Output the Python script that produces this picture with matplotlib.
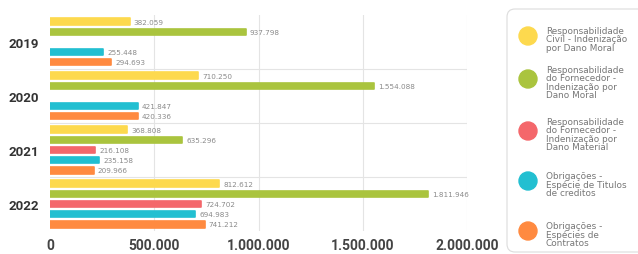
import matplotlib
matplotlib.use("Agg")
import matplotlib.pyplot as plt
from matplotlib.patches import FancyBboxPatch, Circle

years = ["2019", "2020", "2021", "2022"]
series_names = [
    "Responsabilidade\nCivil - Indenização\npor Dano Moral",
    "Responsabilidade\ndo Fornecedor -\nIndenização por\nDano Moral",
    "Responsabilidade\ndo Fornecedor -\nIndenização por\nDano Material",
    "Obrigações -\nEspécie de Titulos\nde creditos",
    "Obrigações -\nEspécies de\nContratos",
]
civil_dano_moral = [382059, 710250, 368808, 812612]
fornecedor_dano_moral = [937798, 1554088, 635296, 1811946]
fornecedor_dano_material = [None, None, 216108, 724702]
titulos_credito = [255448, 421847, 235158, 694983]
especies_contratos = [294693, 420336, 209966, 741212]
xticks = [0, 500000, 1000000, 1500000, 2000000]
xtick_labels = ["0", "500.000", "1.000.000", "1.500.000", "2.000.000"]

colors = ["#FDD94E", "#AAC43E", "#F4676B", "#22BFD1", "#FF8A40"]
all_series = [civil_dano_moral, fornecedor_dano_moral, fornecedor_dano_material,
              titulos_credito, especies_contratos]

W, H = 638, 255
fig = plt.figure(figsize=(W / 100, H / 100), dpi=100)
ax = fig.add_axes([50 / W, 1 - 232 / H, 417 / W, (232 - 15.9) / H])

group_step = 5.3


def fmt(v):
    return f"{v:,}".replace(",", ".")


for j, (vals, col) in enumerate(zip(all_series, colors)):
    ys = [i * group_step + j for i, v in enumerate(vals) if v is not None]
    xs = [v for v in vals if v is not None]
    bars = ax.barh(ys, xs, height=0.62, color=col, edgecolor=col,
                   linewidth=1.2, joinstyle="round", zorder=3)
    ax.bar_label(bars, labels=[fmt(v) for v in xs], padding=3,
                 fontsize=5.2, color="#8a8a8a")

ax.set_xlim(0, 2000000)
ax.set_ylim((len(years) - 1) * group_step + 4 + 0.65, -0.65)
ax.set_xticks(xticks)
ax.set_xticklabels(xtick_labels, fontsize=10, fontweight="bold", color="#444444",
                   family="Roboto")
ax.set_yticks([i * group_step + 2 for i in range(len(years))])
ax.set_yticklabels(years, fontsize=9.5, fontweight="bold", color="#333333",
                   family="Roboto")
ax.tick_params(length=0)
ax.tick_params(axis="x", pad=5)
ax.tick_params(axis="y", pad=8)
for s in ax.spines.values():
    s.set_visible(False)
for x in xticks[1:]:
    ax.axvline(x, color="#e4e4e4", lw=0.8, zorder=1)
for i in range(1, len(years)):
    ax.axhline(i * group_step - 0.65, color="#e4e4e4", lw=0.8, zorder=1)

# legend drawn in pixel coordinates
lax = fig.add_axes([0, 0, 1, 1])
lax.set_xlim(0, W)
lax.set_ylim(H, 0)
lax.axis("off")
box = FancyBboxPatch((507, 10), 160, 243, boxstyle="round,pad=0,rounding_size=8",
                     facecolor="white", edgecolor="#dcdcdc", lw=0.8)
lax.add_patch(box)
circle_y = [37, 80, 132, 182, 232]
for cy, col, name in zip(circle_y, colors, series_names):
    lax.add_patch(Circle((528, cy), 9, color=col))
    lax.text(546, cy + 3, name, fontsize=6.4, color="#777777", va="center",
             ha="left", linespacing=0.95)

fig.savefig("out.png", dpi=100)
